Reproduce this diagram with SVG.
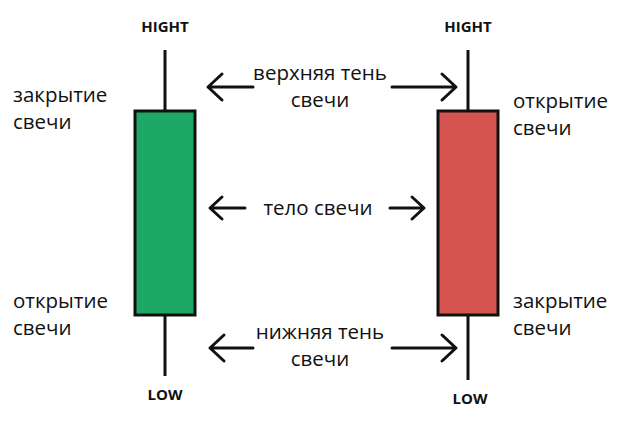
<svg xmlns="http://www.w3.org/2000/svg" width="627" height="425" viewBox="0 0 627 425">
<style>
text{font-family:"Open Sans","Liberation Sans",sans-serif;fill:#111}
.l{font-size:20.5px;font-weight:500}
.h{font-size:15px;font-weight:bold;text-anchor:middle}
.c{text-anchor:middle}
.w{stroke:#111;stroke-width:3;fill:none}
.a{stroke:#111;stroke-width:3;fill:none;stroke-linecap:round;stroke-linejoin:round}
</style>
<rect width="627" height="425" fill="#fff"/>
<g id="green-candle">
<line class="w" x1="165" y1="50" x2="165" y2="376"/>
<rect x="135" y="111" width="60" height="204" fill="#1ea866" stroke="#111" stroke-width="3"/>
<text class="h" x="165" y="32">HIGHT</text>
<text class="h" x="165" y="400">LOW</text>
<text class="l" x="13" y="102">закрытие</text>
<text class="l" x="13" y="129">свечи</text>
<text class="l" x="13" y="308">открытие</text>
<text class="l" x="13" y="335">свечи</text>
</g>
<g id="red-candle">
<line class="w" x1="468" y1="50" x2="468" y2="380"/>
<rect x="438" y="111" width="60" height="204" fill="#d65450" stroke="#111" stroke-width="3"/>
<text class="h" x="468" y="32">HIGHT</text>
<text class="h" x="470" y="404">LOW</text>
<text class="l" x="513" y="108">открытие</text>
<text class="l" x="513" y="135">свечи</text>
<text class="l" x="513" y="308">закрытие</text>
<text class="l" x="513" y="335">свечи</text>
</g>
<g id="labels">
<text class="l c" x="320" y="80">верхняя тень</text>
<text class="l c" x="320" y="107">свечи</text>
<text class="l c" x="318" y="215">тело свечи</text>
<text class="l c" x="320" y="339">нижняя тень</text>
<text class="l c" x="320" y="366">свечи</text>
</g>
<g id="connectors">
<path class="a" d="M253 87H208M222 74L208 87L222 100"/>
<path class="a" d="M392 87H456M442 74L456 87L442 100"/>
<path class="a" d="M245 208H210M222 197L210 208L222 219"/>
<path class="a" d="M390 208H424M412 197L424 208L412 219"/>
<path class="a" d="M253 348H210M224 335L210 348L224 361"/>
<path class="a" d="M392 348H456M442 335L456 348L442 361"/>
</g>
</svg>
